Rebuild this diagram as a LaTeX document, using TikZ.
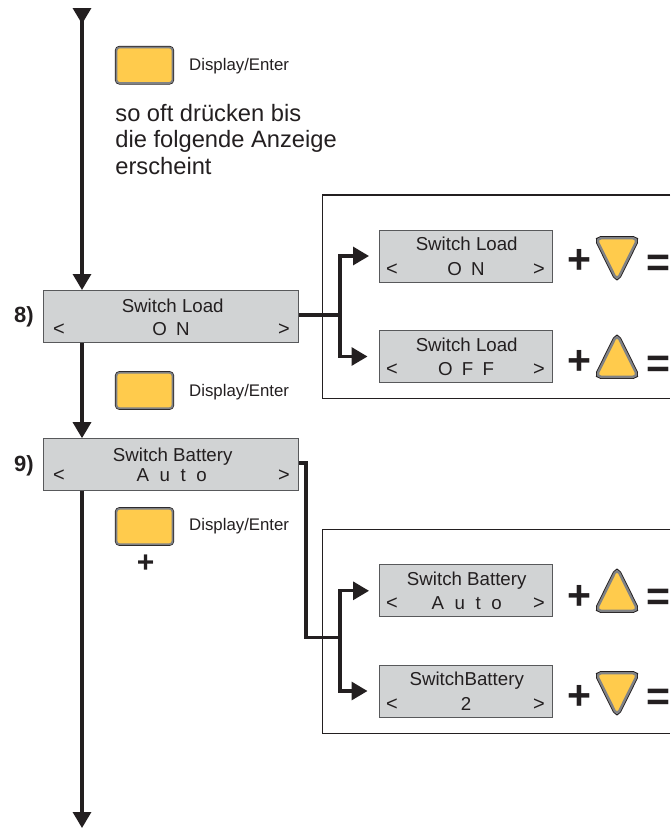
\documentclass[tikz,border=0pt]{standalone}
\usepackage{fontspec}
\setmainfont{Liberation Sans}
\usetikzlibrary{arrows.meta,calc}
\definecolor{ink}{HTML}{231F20}
\definecolor{lcd}{HTML}{D1D3D4}
\definecolor{lcdedge}{HTML}{58595B}
\definecolor{key}{HTML}{FFCB4C}
\definecolor{keyedge}{HTML}{808285}
\newcommand\lgap{\hspace{9.3pt}}
\tikzset{
  flow/.style={draw=ink,line width=3.2pt,line join=miter,-{Triangle[length=16pt,width=18pt]}},
  wire/.style={draw=ink,line width=3.2pt,line join=miter},
  lcdbox/.style={rectangle,draw=lcdedge,fill=lcd,line width=1pt,minimum width=255pt,minimum height=52pt,inner sep=0pt},
  lcdsmall/.style={rectangle,draw=lcdedge,fill=lcd,line width=1pt,minimum width=173pt,minimum height=52pt,inner sep=0pt},
  keybtn/.style={rectangle,rounded corners=3pt,preaction={draw=ink,line width=3.2pt},draw=keyedge,line width=1.8pt,fill=key,minimum width=56pt,minimum height=35.5pt,inner sep=0pt},
  keytri/.style={preaction={draw=ink,line width=4.2pt},draw=keyedge,line width=2.4pt,fill=key,rounded corners=5pt,line join=round},
  frame/.style={draw=ink,line width=1.3pt},
  lbl/.style={text=ink,inner sep=0pt,anchor=base,font=\fontsize{18.7pt}{20pt}\selectfont},
  side/.style={text=ink,inner sep=0pt,anchor=base,font=\fontsize{20pt}{22pt}\selectfont},
  hint/.style={text=ink,inner sep=0pt,anchor=base west,font=\fontsize{16.8pt}{19pt}\selectfont},
  sign/.style={text=ink,inner sep=0pt,anchor=base,font=\bfseries\fontsize{41pt}{44pt}\selectfont},
  step8/.style={text=ink,inner sep=0pt,anchor=base west,font=\bfseries\fontsize{22pt}{24pt}\selectfont},
  tridown/.pic={\path[keytri] (-21,-18.3) -- (21,-18.3) -- (0,24) -- cycle;},
  triup/.pic={\path[keytri] (-21,18.3) -- (21,18.3) -- (0,-24) -- cycle;},
}
\begin{document}
\begin{tikzpicture}[x=1pt,y=-1pt]
\useasboundingbox (0,0) rectangle (670,828);

% frames, open to the right edge
\draw[frame] (670,195) -- (322.7,195) -- (322.7,398.3) -- (670,398.3);
\draw[frame] (670,529.3) -- (322.7,529.3) -- (322.7,733.3) -- (670,733.3);

% main displays
\node[lcdbox] (b8) at (171.3,316.5) {};
\node[lcdbox] (b9) at (171.3,464.7) {};
\node[step8] (n8) at (14,322.7) {8)};
\node[step8] (n9) at (14,471) {9)};
\node[lbl] (b8a) at (172.7,312) {Switch Load};
\node[lbl] (b8b) at (171,335) {O\lgap N};
\node[side] (b8l) at (59,335) {<};
\node[side] (b8r) at (284,335) {>};
\node[lbl] (b9a) at (172.7,461) {Switch Battery};
\node[lbl] (b9b) at (171.7,481.7) {A\hspace{10.5pt}u\hspace{10.5pt}t\hspace{10.5pt}o};
\node[side] (b9l) at (59,481.7) {<};
\node[side] (b9r) at (284,481.7) {>};

% keys
\node[keybtn] (k1) at (144.5,65.2) {};
\node[keybtn] (k2) at (144.5,390.5) {};
\node[keybtn] (k3) at (144.5,526.5) {};
\node[hint] (h1) at (189,70) {Display/Enter};
\node[hint] (h2) at (189,396) {Display/Enter};
\node[hint] (h3) at (189,530.5) {Display/Enter};
\node[text=ink,inner sep=0pt,anchor=base,font=\bfseries\fontsize{30pt}{34pt}\selectfont] (p0) at (145.7,572.7) {+};
\node[text=ink,inner sep=0pt,anchor=base west,font=\fontsize{23.7pt}{26.3pt}\selectfont] (t1) at (115.2,121.7) {so oft drücken bis};
\node[text=ink,inner sep=0pt,anchor=base west,font=\fontsize{23.7pt}{26.3pt}\selectfont] (t2) at (115.2,147.9) {die folgende Anzeige};
\node[text=ink,inner sep=0pt,anchor=base west,font=\fontsize{23.7pt}{26.3pt}\selectfont] (t3) at (115.2,174.3) {erscheint};

% small displays, Load
\node[lcdsmall] (s1) at (466,256) {};
\node[lbl] (s1a) at (466.7,250) {Switch Load};
\node[lbl] (s1b) at (466,275.7) {O\lgap N};
\node[side] (s1l) at (392,275.7) {<};
\node[side] (s1r) at (539,275.7) {>};
\node[lcdsmall] (s2) at (466,356.5) {};
\node[lbl] (s2a) at (466.7,351) {Switch Load};
\node[lbl] (s2b) at (466,375.7) {O\lgap F\lgap F};
\node[side] (s2l) at (392,375.7) {<};
\node[side] (s2r) at (539,375.7) {>};

% small displays, Battery
\node[lcdsmall] (s3) at (466,590.8) {};
\node[lbl] (s3a) at (466.7,585) {Switch Battery};
\node[lbl] (s3b) at (466.7,609.3) {A\hspace{10.5pt}u\hspace{10.5pt}t\hspace{10.5pt}o};
\node[side] (s3l) at (392,609.3) {<};
\node[side] (s3r) at (539,609.3) {>};
\node[lcdsmall] (s4) at (466,691) {};
\node[lbl] (s4a) at (466.7,685.7) {SwitchBattery};
\node[lbl] (s4b) at (466,710) {2};
\node[side] (s4l) at (392,710) {<};
\node[side] (s4r) at (539,710) {>};

% plus, triangle, equals
\node[sign] (p1) at (579.3,273.5) {+};
\node[sign] (p2) at (579.3,374.5) {+};
\node[sign] (p3) at (579.3,609.5) {+};
\node[sign] (p4) at (579.3,709.5) {+};
\node[sign] (e1) at (658,276.5) {=};
\node[sign] (e2) at (658,377.5) {=};
\node[sign] (e3) at (658,610.5) {=};
\node[sign] (e4) at (658,710) {=};
\pic at (617,256.5) {tridown};
\pic at (617,358.5) {triup};
\pic at (617,592.5) {triup};
\pic at (617,691.5) {tridown};

% flow line
\coordinate (top) at (82,8);
\coordinate (bot) at (82,828);
\draw[flow,{Triangle[reversed,length=16pt,width=18pt]}-{Triangle[length=16pt,width=18pt]}] (top) -- (top |- b8.north);
\draw[flow] (top |- b8.south) -- (top |- b9.north);
\draw[flow] (top |- b9.south) -- (bot);

% branches
\coordinate (j8) at (340,315);
\draw[wire] (b8.east |- j8) -- (j8);
\draw[flow,shorten >=10pt] (j8) |- (s1.west);
\draw[flow,shorten >=11.5pt] (j8) |- (s2.west);
\coordinate (r9) at (306,463);
\coordinate (j9) at (340,637.3);
\draw[wire] (b9.east |- r9) -- (r9) -- (r9 |- j9) -- (j9);
\draw[flow,shorten >=10pt] (j9) |- (s3.west);
\draw[flow,shorten >=11.5pt] (j9) |- (s4.west);
\end{tikzpicture}
\end{document}
